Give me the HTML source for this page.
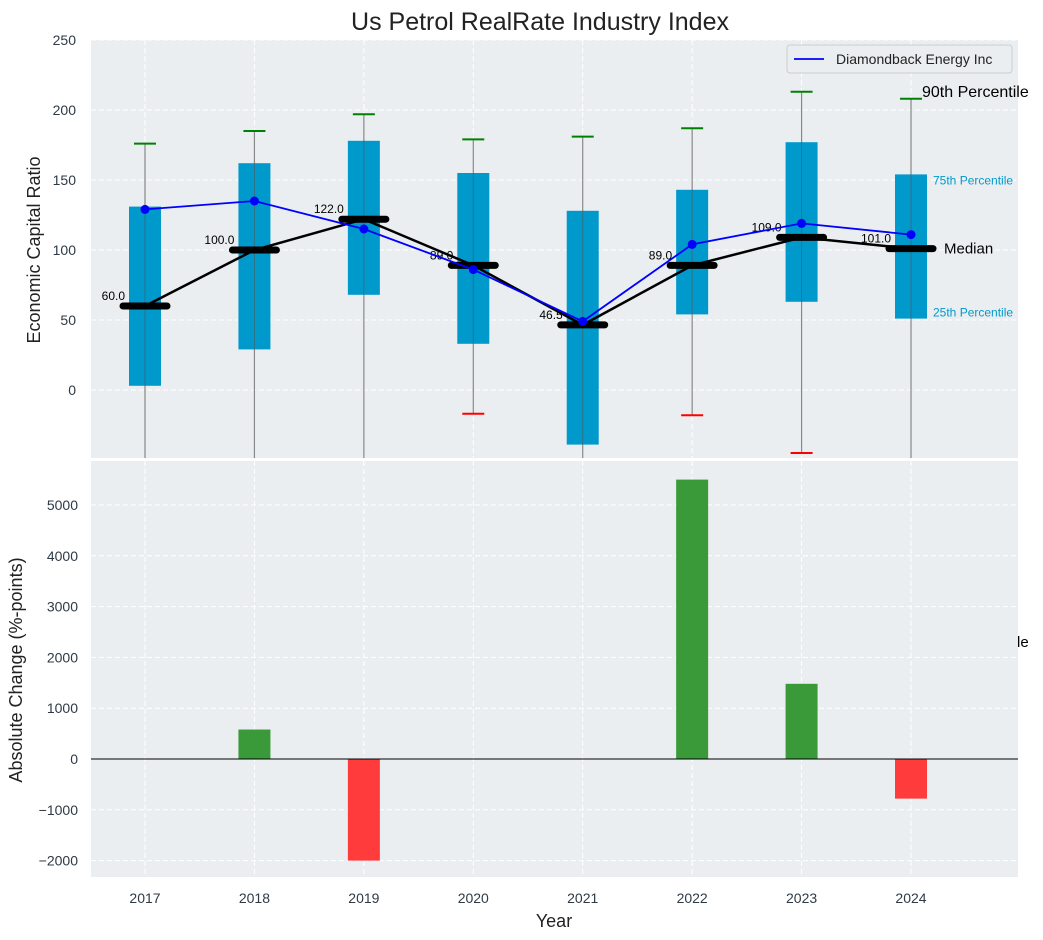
<!DOCTYPE html>
<html><head><meta charset="utf-8"><style>
body{margin:0;background:#fff;}
svg{display:block;font-family:"Liberation Sans",Arial,sans-serif;}
</style></head><body>
<svg id="chart" width="1043" height="940"></svg>
<script>
const years=[2017,2018,2019,2020,2021,2022,2023,2024];
const q25=[3,29,68,33,-39,54,63,51];
const q75=[131,162,178,155,128,143,177,154];
const medians=[60,100,122,89,46.5,89,109,101];
const p90=[176,185,197,179,181,187,213,208];
const p10=[-60,-60,-60,-17,-60,-18,-45,-60];
const companyVals=[129,135,115,86,49,104,119,111];
const changes=[0,580,-2000,0,0,5500,1480,-780];
const topTicks=[0,50,100,150,200,250];
const botTicks=[-2000,-1000,0,1000,2000,3000,4000,5000];

const svg=document.getElementById('chart');
const NS='http://www.w3.org/2000/svg';
function mk(tag,attrs,parent,text){const e=document.createElementNS(NS,tag);for(const k in attrs)e.setAttribute(k,attrs[k]);if(text!==undefined)e.textContent=text;(parent||svg).appendChild(e);return e;}
const X0=91,X1=1018;
const x=v=>145+(v-2017)*109.43;
const yT=v=>390-v*1.4;
const yB=v=>759-v*0.0508;
const fmt=v=>String(v).replace('-','\u2212');

let p=mk('rect',{x:X0,y:40,width:X1-X0,height:418,fill:'#eaeef0'});

p=mk('rect',{x:X0,y:461,width:X1-X0,height:416,fill:'#eaeef0'});


years.forEach(yr=>{mk('line',{x1:x(yr),x2:x(yr),y1:40,y2:458,stroke:'#fff','stroke-dasharray':'5,3'});mk('line',{x1:x(yr),x2:x(yr),y1:461,y2:877,stroke:'#fff','stroke-dasharray':'5,3'});});
topTicks.forEach(t=>{mk('line',{x1:X0,x2:X1,y1:yT(t),y2:yT(t),stroke:'#fff','stroke-dasharray':'5,3'});
 const l=mk('text',{x:76,y:yT(t)+5,'text-anchor':'end','font-size':14,fill:'#2e3a46'},null,fmt(t));
 });
botTicks.forEach(t=>{mk('line',{x1:X0,x2:X1,y1:yB(t),y2:yB(t),stroke:'#fff','stroke-dasharray':'5,3'});
 const l=mk('text',{x:78,y:yB(t)+5,'text-anchor':'end','font-size':14,fill:'#2e3a46'},null,fmt(t));
 });

const clipBot=458;
years.forEach((yr,i)=>{
 const cx=x(yr);
 const w=mk('line',{x1:cx,x2:cx,y1:yT(p90[i]),y2:Math.min(clipBot,yT(p10[i])),stroke:'#888','stroke-width':1.2});
 
 const b=mk('rect',{x:cx-16,y:yT(q75[i]),width:32,height:yT(q25[i])-yT(q75[i]),fill:'#0099cc'});
 
 mk('line',{x1:cx,x2:cx,y1:yT(q75[i]),y2:yT(q25[i]),stroke:'#555','stroke-width':1,opacity:0.6});
 const c=mk('line',{x1:cx-11,x2:cx+11,y1:yT(p90[i]),y2:yT(p90[i]),stroke:'green','stroke-width':2});
 
 if(yT(p10[i])<clipBot){const d=mk('line',{x1:cx-11,x2:cx+11,y1:yT(p10[i]),y2:yT(p10[i]),stroke:'red','stroke-width':2});
 }
});
let pts=years.map((yr,i)=>x(yr)+','+yT(medians[i])).join(' ');
p=mk('polyline',{points:pts,fill:'none',stroke:'#000','stroke-width':2.5});

years.forEach((yr,i)=>{const m=mk('line',{x1:x(yr)-22,x2:x(yr)+22,y1:yT(medians[i]),y2:yT(medians[i]),stroke:'#000','stroke-width':7,'stroke-linecap':'round'});
 
 const t=mk('text',{x:x(yr)-20,y:yT(medians[i])-6,'text-anchor':'end','font-size':12,fill:'#000'},null,medians[i].toFixed(1));
 });
pts=years.map((yr,i)=>x(yr)+','+yT(companyVals[i])).join(' ');
p=mk('polyline',{points:pts,fill:'none',stroke:'blue','stroke-width':1.8});

years.forEach((yr,i)=>{const c=mk('circle',{cx:x(yr),cy:yT(companyVals[i]),r:4.5,fill:'blue'});
 });

const last=years.length-1,lx=x(years[last]);
[['90th Percentile',lx+11,yT(p90[last])-2,'#000',16],['75th Percentile',lx+22,yT(q75[last])+10,'#0099cc',12],['Median',lx+33,yT(medians[last])+5,'#000',15],['25th Percentile',lx+22,yT(q25[last])-2,'#0099cc',12],['le',1017,647,'#000',15]].forEach(a=>{
 const t=mk('text',{x:a[1],y:a[2],'font-size':a[4],fill:a[3]},null,a[0]);
 });

const lg=mk('g',{});
mk('rect',{x:787,y:45,width:225,height:28,rx:3,fill:'#eaeef0',stroke:'#ccc'},lg);
mk('line',{x1:794,x2:824,y1:59,y2:59,stroke:'blue','stroke-width':1.8},lg);
mk('text',{x:836,y:64,'font-size':14,fill:'#222'},lg,'Diamondback Energy Inc');

years.forEach((yr,i)=>{const v=changes[i];if(v===0)return;
 const b=mk('rect',{x:x(yr)-16,y:Math.min(yB(v),yB(0)),width:32,height:Math.abs(yB(v)-yB(0)),fill:v>0?'#3a9a3a':'#ff3b3b'});
 });
mk('line',{x1:X0,x2:X1,y1:yB(0),y2:yB(0),stroke:'#000','stroke-width':1});

years.forEach(yr=>{const t=mk('text',{x:x(yr),y:903,'text-anchor':'middle','font-size':14,fill:'#2e3a46'},null,yr);
 });

let t=mk('text',{x:540,y:30,'text-anchor':'middle','font-size':25,fill:'#222'},null,'Us Petrol RealRate Industry Index');

t=mk('text',{x:554,y:927,'text-anchor':'middle','font-size':18,fill:'#222'},null,'Year');

t=mk('text',{x:40,y:250,'text-anchor':'middle','font-size':18,fill:'#222',transform:'rotate(-90 40 250)'},null,'Economic Capital Ratio');

t=mk('text',{x:22,y:670,'text-anchor':'middle','font-size':18,fill:'#222',transform:'rotate(-90 22 670)'},null,'Absolute Change (%-points)');

</script>
</body></html>
